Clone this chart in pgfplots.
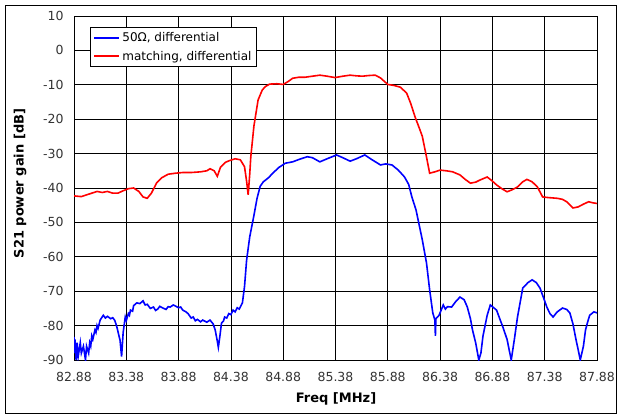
\documentclass[border=0pt]{standalone}
\usepackage{fontspec}
\setmainfont{DejaVu Sans}
\usepackage{pgfplots}
\pgfplotsset{compat=1.18}

\begin{document}
\begin{tikzpicture}
\begin{axis}[
    scale only axis,
    width=523bp, height=344bp,
    xmin=82.88, xmax=87.88,
    ymin=-90, ymax=10,
    xtick={82.88,83.38,83.88,84.38,84.88,85.38,85.88,86.38,86.88,87.38,87.88},
    xticklabels={82.88,83.38,83.88,84.38,84.88,85.38,85.88,86.38,86.88,87.38,87.88},
    ytick={-90,-80,-70,-60,-50,-40,-30,-20,-10,0,10},
    yticklabels={-90,-80,-70,-60,-50,-40,-30,-20,-10,0,10},
    major tick length=0pt,
    grid=major,
    grid style={black, line width=0.75bp},
    axis line style={black, line width=0.75bp},
    ticklabel style={font=\fontsize{12.5bp}{15bp}\selectfont, text=black!80},
    xticklabel style={yshift=-9bp},
    yticklabel style={xshift=-7bp},
    xlabel={Freq [MHz]},
    ylabel={S21 power gain [dB]},
    every axis x label/.style={at={(rel axis cs:0.501,-0.1134)}, anchor=center,
        font=\bfseries\fontsize{13bp}{15bp}\selectfont},
    every axis y label/.style={at={(rel axis cs:-0.1033,0.513)}, anchor=center, rotate=90,
        font=\bfseries\fontsize{13bp}{15bp}\selectfont},
    legend style={at={(rel axis cs:0.0306,0.968)}, anchor=north west,
        draw=black, line width=0.75bp, fill=white,
        font=\fontsize{12bp}{14bp}\selectfont,
        inner xsep=3bp, inner ysep=3bp, row sep=4bp},
    legend cell align=left,
    legend image code/.code={\draw[#1, line width=2bp] (0bp,0bp) -- (25bp,0bp);},
]
\addplot[blue, line width=1.6bp] coordinates {
(82.88,-83.3)(82.885,-88)(82.89,-84)(82.90,-90)(82.91,-85)(82.92,-89)(82.94,-85)
(82.95,-88)(82.97,-86)(82.99,-90)(83.00,-86)(83.02,-88)(83.03,-85)(83.04,-86)(83.05,-83)
(83.06,-84)(83.08,-81.3)(83.09,-82)(83.10,-80)(83.11,-80.8)(83.13,-78.4)(83.16,-77)
(83.18,-77.8)(83.20,-77.3)(83.23,-78)(83.25,-77.7)
(83.27,-78.5)(83.29,-80.4)(83.31,-83)(83.32,-84.2)(83.335,-89)(83.35,-82)
(83.37,-77.5)(83.38,-78.5)(83.40,-76.5)(83.41,-77)(83.42,-75.5)(83.44,-75.8)(83.45,-74.2)
(83.48,-73.4)(83.51,-73.6)(83.54,-72.8)(83.56,-74)
(83.58,-73.8)(83.61,-75)(83.64,-74.6)(83.66,-75.6)(83.68,-75.2)(83.70,-74.4)(83.73,-74.9)
(83.76,-75.3)(83.78,-74.5)(83.80,-74.6)(83.83,-74.0)
(83.88,-74.8)(83.90,-74.6)(83.92,-75.5)(83.95,-76.0)(83.97,-76.5)(84.00,-77.8)(84.02,-77.5)
(84.04,-78.6)(84.06,-78.2)(84.09,-78.9)(84.11,-78.4)
(84.15,-79)(84.18,-78.4)(84.21,-79.5)(84.23,-81.3)(84.25,-84.5)(84.26,-86.3)
(84.275,-83)(84.29,-79.3)(84.31,-78.6)(84.32,-77.5)(84.34,-77.8)(84.36,-76.5)(84.38,-76.8)
(84.40,-75.5)(84.42,-76.0)(84.44,-74.8)(84.46,-75.2)
(84.49,-73.4)(84.51,-68.7)(84.53,-61)(84.56,-54.2)(84.60,-48)(84.63,-43)
(84.66,-39.5)(84.69,-38.2)(84.74,-37)(84.78,-35.7)(84.84,-34)(84.90,-32.8)
(84.97,-32.4)(85.04,-31.6)(85.11,-30.9)(85.16,-31.2)(85.23,-32.4)(85.30,-31.5)
(85.39,-30.4)(85.45,-31.2)(85.52,-32.2)(85.58,-31.5)(85.66,-30.4)(85.73,-31.8)
(85.81,-33.3)(85.86,-33.0)(85.92,-33.3)(85.98,-34.8)(86.04,-36.8)(86.08,-39)
(86.11,-42.6)(86.15,-46.4)(86.21,-55.1)(86.25,-61.8)(86.28,-69.6)(86.31,-76.3)
(86.33,-78.4)(86.335,-83)(86.34,-78)(86.37,-77)(86.41,-74)(86.43,-75.2)(86.45,-74.5)
(86.49,-74.6)(86.53,-73)(86.57,-71.7)(86.61,-72.5)(86.64,-74.6)(86.67,-78)
(86.69,-81.3)(86.72,-85)(86.75,-90)(86.77,-88)(86.79,-83)(86.83,-77)(86.86,-74)
(86.92,-75.5)(86.95,-78)(86.98,-80.4)(87.02,-84)(87.06,-90)(87.09,-84)
(87.12,-77.5)(87.17,-69.1)(87.22,-67.5)(87.26,-66.7)(87.30,-67.5)(87.335,-69.1)
(87.37,-72)(87.40,-74.6)(87.43,-76.5)(87.46,-77.5)(87.50,-76)(87.55,-74.9)
(87.59,-75.3)(87.62,-76.3)(87.65,-79.5)(87.68,-84.2)(87.70,-87)(87.72,-90)
(87.75,-86)(87.77,-81.3)(87.79,-79)(87.81,-77)(87.85,-76)(87.88,-76.3)
};
\addlegendentry{50Ω, differential}
\addplot[red, line width=1.6bp] coordinates {
(82.88,-42.3)(82.95,-42.5)(83.00,-42.0)(83.05,-41.5)(83.10,-41.0)(83.15,-41.3)
(83.20,-41.0)(83.25,-41.5)(83.30,-41.5)(83.35,-40.8)(83.40,-40.2)(83.45,-40.0)
(83.50,-41.0)(83.54,-42.6)(83.58,-43.0)(83.62,-41.5)(83.67,-38.5)(83.72,-37.0)
(83.78,-36.0)(83.85,-35.7)(83.92,-35.5)(84.00,-35.5)(84.09,-35.3)(84.15,-35.0)
(84.18,-34.4)(84.22,-35.0)(84.25,-36.6)(84.28,-34.0)(84.33,-32.5)(84.37,-32.0)
(84.42,-31.5)(84.47,-31.8)(84.51,-33.8)(84.53,-38)(84.545,-42)(84.56,-36)
(84.57,-31)(84.60,-22)(84.64,-14.4)(84.68,-11.5)(84.71,-10.5)(84.75,-9.8)
(84.82,-9.7)(84.88,-9.9)(84.93,-9.0)(84.97,-8.1)(85.03,-7.8)(85.09,-7.8)
(85.16,-7.5)(85.23,-7.2)(85.30,-7.5)(85.375,-7.9)(85.45,-7.5)(85.52,-7.2)
(85.58,-7.4)(85.64,-7.5)(85.70,-7.3)(85.76,-7.2)(85.81,-8.0)(85.88,-9.9)
(85.94,-10.2)(86.00,-10.7)(86.06,-12.4)(86.10,-15.5)(86.14,-19.3)(86.18,-22.5)
(86.21,-25)(86.25,-31)(86.28,-35.7)(86.33,-35.3)(86.38,-34.8)(86.44,-35.0)
(86.50,-35.3)(86.57,-36.2)(86.62,-37.5)(86.67,-38.6)(86.72,-38.3)(86.76,-37.7)
(86.83,-36.8)(86.88,-38)(86.92,-39.1)(86.97,-40.2)(87.02,-41.1)(87.07,-40.5)
(87.12,-39.7)(87.17,-38.2)(87.21,-37.5)(87.26,-38.2)(87.31,-39.7)(87.36,-42.6)
(87.42,-42.8)(87.50,-43.0)(87.55,-43.3)(87.59,-44.0)(87.65,-45.8)(87.70,-45.5)
(87.75,-44.7)(87.80,-44.0)(87.84,-44.3)(87.88,-44.5)
};
\addlegendentry{matching, differential}
\coordinate (frameSW) at (rel axis cs:-0.1319,-0.1541);
\coordinate (frameNE) at (rel axis cs:1.0363,1.032);
\coordinate (imgSW) at (rel axis cs:-0.1415,-0.1715);
\coordinate (imgNE) at (rel axis cs:1.0497,1.0465);
\end{axis}
\draw[black, line width=0.75bp] (frameSW) rectangle (frameNE);
\pgfresetboundingbox
\path[use as bounding box] (imgSW) rectangle (imgNE);
\end{tikzpicture}
\end{document}
